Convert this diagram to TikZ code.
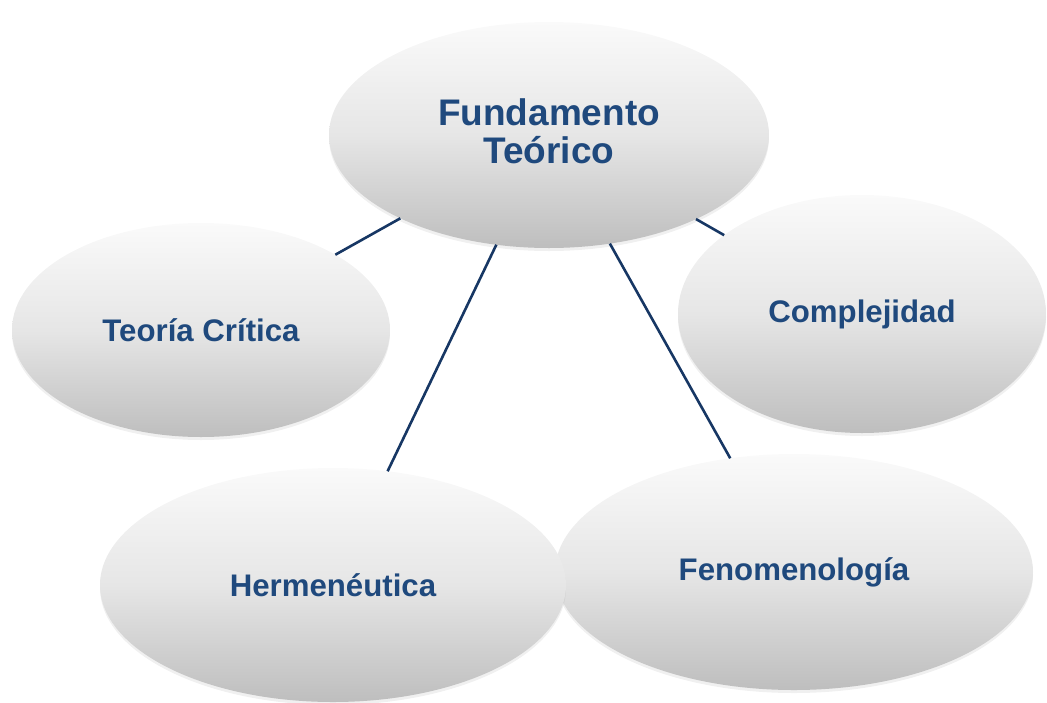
\documentclass[tikz,border=0pt]{standalone}
\usepackage{fontspec}
\setmainfont{Liberation Sans}
\usetikzlibrary{shapes.geometric,shadows}
\definecolor{txtblue}{RGB}{31,73,125}
\definecolor{lineblue}{RGB}{23,55,100}
\definecolor{shtop}{RGB}{250,250,250}
\definecolor{shmid}{RGB}{230,230,230}
\definecolor{shbot}{RGB}{190,190,190}
\tikzset{
  bubble/.style={ellipse, inner sep=0pt, outer sep=0pt,
    top color=shtop, bottom color=shbot, middle color=shmid,
    draw=none, text=txtblue, font=\bfseries\fontsize{31.2}{36}\selectfont,
    drop shadow={opacity=0.12, shadow xshift=0pt, shadow yshift=-3pt}},
  link/.style={draw=lineblue, line width=2.6pt}
}
\begin{document}
\begin{tikzpicture}[x=1pt,y=-1pt]
\useasboundingbox (0,0) rectangle (1047,702);
\node[bubble, minimum width=440pt, minimum height=226pt, align=center,
  font=\bfseries\fontsize{37}{38}\selectfont] (top) at (549,135) {Fundamento\\Teórico\\[-30pt]};
\node[bubble, minimum width=378pt, minimum height=214pt] (teoria) at (201,330) {Teoría Crítica};
\node[bubble, minimum width=368pt, minimum height=238pt] (comp) at (862,314) {Complejidad};
\node[bubble, minimum width=478pt, minimum height=236pt] (feno) at (794,572) {Fenomenología};
\node[bubble, minimum width=466pt, minimum height=234pt] (herm) at (333,585) {Hermenéutica};
\draw[link] (top) -- (teoria);
\draw[link] (top) -- (comp);
\draw[link] (top) -- (herm);
\draw[link] (top) -- (feno);
\end{tikzpicture}
\end{document}
